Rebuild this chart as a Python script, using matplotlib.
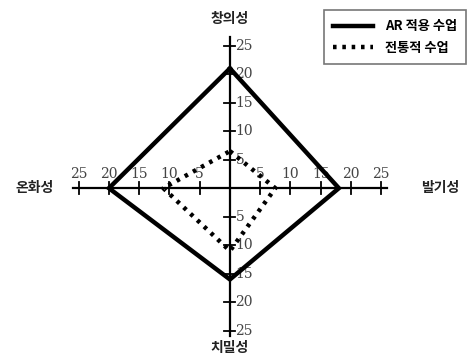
import matplotlib
matplotlib.use('Agg')
import matplotlib.pyplot as plt

# category order: top, right, bottom, left
categories = ['창의성', '발기성', '치밀성', '온화성']
ar_scores = [21, 18, 16, 20]
trad_scores = [6.5, 7.5, 11, 11]
series_names = ['AR 적용 수업', '전통적 수업']
tick_values = [5, 10, 15, 20, 25]

plt.rcParams['font.family'] = ['Noto Sans CJK KR', 'DejaVu Sans']


def to_xy(vals):
	# top, right, bottom, left -> closed polygon
	xs = [0, vals[1], 0, -vals[3], 0]
	ys = [vals[0], 0, -vals[2], 0, vals[0]]
	return xs, ys


fig = plt.figure(figsize=(4.75, 3.57), dpi=100)
ax = fig.add_axes([0, 0, 1, 1])
ax.set_xlim(-38.0, 40.5)
ax.set_ylim(-29.6, 33.0)
ax.axis('off')

# cross axes
ax.plot([-26, 26], [0, 0], color='black', lw=1.6, zorder=2)
ax.plot([0, 0], [-26, 26.5], color='black', lw=1.6, zorder=2)

tick_font = dict(family='DejaVu Serif', fontsize=10, color='#444444')
for t in tick_values:
	# horizontal axis ticks
	for sx in (1, -1):
		ax.plot([sx * t, sx * t], [-1.0, 1.0], color='black', lw=1.3, zorder=2)
		ax.text(sx * t, 1.2, str(t), ha='center', va='bottom', **tick_font)
	# vertical axis ticks
	for sy in (1, -1):
		ax.plot([-0.9, 0.9], [sy * t, sy * t], color='black', lw=1.3, zorder=2)
		ax.text(0.9, sy * t, str(t), ha='left', va='center', **tick_font)

xs, ys = to_xy(ar_scores)
ax.plot(xs, ys, color='black', lw=3.2, solid_joinstyle='miter', zorder=3)
xs, ys = to_xy(trad_scores)
ax.plot(xs, ys, color='black', lw=3.2, linestyle=(0, (0.8, 1.3)), zorder=3)

lab_font = dict(fontsize=10, fontweight='heavy', color='#222222')
ax.text(0, 29.6, categories[0], ha='center', va='center', **lab_font)
ax.text(34.7, 0, categories[1], ha='center', va='center', **lab_font)
ax.text(0, -28.1, categories[2], ha='center', va='center', **lab_font)
ax.text(-32.2, 0, categories[3], ha='center', va='center', **lab_font)

# legend box
leg_handles = [
	plt.Line2D([], [], color='black', lw=3.2),
	plt.Line2D([], [], color='black', lw=3.2, linestyle=(0, (0.8, 1.3))),
]
leg = ax.legend(leg_handles, series_names, loc='upper right',
	bbox_to_anchor=(0.995, 0.99), frameon=True, fancybox=False,
	edgecolor='#555555', handlelength=3.0, handletextpad=0.9,
	prop={'weight': 'heavy', 'size': 9.5}, borderpad=0.7, labelspacing=0.55)
leg.get_frame().set_linewidth(1.2)

fig.savefig('out.png', dpi=100)
